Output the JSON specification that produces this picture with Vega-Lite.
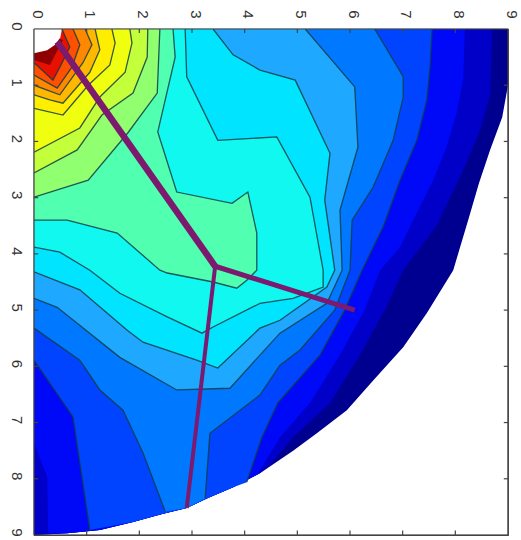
{"$schema":"https://vega.github.io/schema/vega-lite/v6.json","width":474,"height":506,"autosize":"none","padding":{"left":34,"top":29,"right":13,"bottom":5},"background":"white","view":{"stroke":"#444","strokeWidth":1.2},
"datasets":{"bands":[
{"b":"D","i":0,"x":9,"y":0},{"b":"D","i":1,"x":9,"y":1.0},{"b":"D","i":2,"x":8.89,"y":1.57},{"b":"D","i":3,"x":8.66,"y":2.15},{"b":"D","i":4,"x":8.45,"y":2.74},{"b":"D","i":5,"x":8.26,"y":3.35},{"b":"D","i":6,"x":7.96,"y":4.29},{"b":"D","i":7,"x":7.46,"y":5.05},{"b":"D","i":8,"x":7.01,"y":5.66},{"b":"D","i":9,"x":6.44,"y":6.25},{"b":"D","i":10,"x":5.94,"y":6.78},{"b":"D","i":11,"x":5.37,"y":7.19},{"b":"D","i":12,"x":4.92,"y":7.5},{"b":"D","i":13,"x":4.29,"y":7.9},{"b":"D","i":14,"x":3.78,"y":8.15},{"b":"D","i":15,"x":3.28,"y":8.35},{"b":"D","i":16,"x":2.9,"y":8.52},{"b":"D","i":17,"x":2.45,"y":8.62},{"b":"D","i":18,"x":1.88,"y":8.77},{"b":"D","i":19,"x":1.25,"y":8.91},{"b":"D","i":20,"x":0.63,"y":8.97},{"b":"D","i":21,"x":0,"y":9},{"b":"D","i":99,"x":0,"y":0},
{"b":"C1","i":0,"x":8.7,"y":0},{"b":"C1","i":1,"x":8.66,"y":1.17},{"b":"C1","i":2,"x":8.47,"y":1.8},{"b":"C1","i":3,"x":8.15,"y":2.51},{"b":"C1","i":4,"x":7.65,"y":3.49},{"b":"C1","i":5,"x":7.01,"y":4.29},{"b":"C1","i":6,"x":6.66,"y":5.0},{"b":"C1","i":7,"x":6.19,"y":5.8},{"b":"C1","i":8,"x":5.62,"y":6.65},{"b":"C1","i":9,"x":4.92,"y":7.26},{"b":"C1","i":10,"x":4.48,"y":7.76},{"b":"C1","i":11,"x":4.29,"y":7.9},{"b":"C1","i":12,"x":3.78,"y":8.15},{"b":"C1","i":13,"x":3.28,"y":8.35},{"b":"C1","i":14,"x":2.9,"y":8.52},{"b":"C1","i":15,"x":2.45,"y":8.62},{"b":"C1","i":16,"x":1.88,"y":8.77},{"b":"C1","i":17,"x":1.25,"y":8.91},{"b":"C1","i":18,"x":0.63,"y":8.97},{"b":"C1","i":19,"x":0,"y":9},{"b":"C1","i":99,"x":0,"y":0},
{"b":"C2","i":0,"x":8.18,"y":0},{"b":"C2","i":1,"x":8.15,"y":0.89},{"b":"C2","i":2,"x":8.03,"y":1.48},{"b":"C2","i":3,"x":7.84,"y":2.08},{"b":"C2","i":4,"x":7.58,"y":2.69},{"b":"C2","i":5,"x":7.27,"y":3.27},{"b":"C2","i":6,"x":6.95,"y":3.88},{"b":"C2","i":7,"x":6.57,"y":4.29},{"b":"C2","i":8,"x":6.28,"y":5.0},{"b":"C2","i":9,"x":5.81,"y":5.8},{"b":"C2","i":10,"x":5.24,"y":6.65},{"b":"C2","i":11,"x":4.67,"y":7.26},{"b":"C2","i":12,"x":4.25,"y":7.92},{"b":"C2","i":13,"x":3.78,"y":8.15},{"b":"C2","i":14,"x":3.28,"y":8.35},{"b":"C2","i":15,"x":2.9,"y":8.52},{"b":"C2","i":16,"x":2.45,"y":8.62},{"b":"C2","i":17,"x":1.88,"y":8.77},{"b":"C2","i":18,"x":1.25,"y":8.91},{"b":"C2","i":19,"x":0.63,"y":8.97},{"b":"C2","i":20,"x":0.27,"y":8.97},{"b":"C2","i":21,"x":0.25,"y":7.97},{"b":"C2","i":22,"x":0,"y":7.37},{"b":"C2","i":99,"x":0,"y":0},
{"b":"C3","s":"C3a","i":0,"x":7.56,"y":0},{"b":"C3","s":"C3a","i":1,"x":7.52,"y":0.68},{"b":"C3","s":"C3a","i":2,"x":7.46,"y":1.26},{"b":"C3","s":"C3a","i":3,"x":7.27,"y":1.98},{"b":"C3","s":"C3a","i":4,"x":6.95,"y":2.69},{"b":"C3","s":"C3a","i":5,"x":6.63,"y":3.52},{"b":"C3","s":"C3a","i":6,"x":6.23,"y":4.29},{"b":"C3","s":"C3a","i":7,"x":5.9,"y":5.0},{"b":"C3","s":"C3a","i":8,"x":5.43,"y":5.8},{"b":"C3","s":"C3a","i":9,"x":4.63,"y":6.65},{"b":"C3","s":"C3a","i":10,"x":4.33,"y":7.26},{"b":"C3","s":"C3a","i":11,"x":4.04,"y":8.06},{"b":"C3","i":12,"x":3.78,"y":8.15},{"b":"C3","i":13,"x":3.28,"y":8.35},{"b":"C3","i":14,"x":2.9,"y":8.52},{"b":"C3","i":15,"x":2.45,"y":8.62},{"b":"C3","i":16,"x":1.88,"y":8.77},{"b":"C3","s":"C3b","i":17,"x":1.06,"y":8.91},{"b":"C3","s":"C3b","i":18,"x":0.74,"y":6.9},{"b":"C3","s":"C3b","i":19,"x":0,"y":5.89},{"b":"C3","i":99,"x":0,"y":0},
{"b":"C4","s":"C4a","i":0,"x":6.47,"y":0},{"b":"C4","s":"C4a","i":1,"x":7.01,"y":0.85},{"b":"C4","s":"C4a","i":2,"x":7.01,"y":1.21},{"b":"C4","s":"C4a","i":3,"x":6.82,"y":1.98},{"b":"C4","s":"C4a","i":4,"x":6.44,"y":2.81},{"b":"C4","s":"C4a","i":5,"x":6.04,"y":3.4},{"b":"C4","s":"C4a","i":6,"x":6.0,"y":4.29},{"b":"C4","s":"C4a","i":7,"x":5.71,"y":5.0},{"b":"C4","s":"C4a","i":8,"x":5.05,"y":5.71},{"b":"C4","s":"C4a","i":9,"x":4.67,"y":5.98},{"b":"C4","s":"C4a","i":10,"x":4.29,"y":6.51},{"b":"C4","s":"C4a","i":11,"x":3.34,"y":7.19},{"b":"C4","s":"C4a","i":12,"x":3.25,"y":8.35},{"b":"C4","i":13,"x":2.9,"y":8.52},{"b":"C4","s":"C4b","i":14,"x":2.49,"y":8.58},{"b":"C4","s":"C4b","i":15,"x":2.07,"y":7.54},{"b":"C4","s":"C4b","i":16,"x":1.69,"y":6.78},{"b":"C4","s":"C4b","i":17,"x":1.25,"y":6.42},{"b":"C4","s":"C4b","i":18,"x":0.87,"y":5.89},{"b":"C4","s":"C4b","i":19,"x":0,"y":5.32},{"b":"C4","i":99,"x":0,"y":0},
{"b":"C5","s":"C5","i":0,"x":5.15,"y":0},{"b":"C5","s":"C5","i":1,"x":6.09,"y":1.03},{"b":"C5","s":"C5","i":2,"x":6.15,"y":2.1},{"b":"C5","s":"C5","i":3,"x":5.81,"y":3.22},{"b":"C5","s":"C5","i":4,"x":5.85,"y":4.29},{"b":"C5","s":"C5","i":5,"x":5.56,"y":4.88},{"b":"C5","s":"C5","i":6,"x":4.67,"y":5.41},{"b":"C5","s":"C5","i":7,"x":4.29,"y":5.8},{"b":"C5","s":"C5","i":8,"x":3.72,"y":6.39},{"b":"C5","s":"C5","i":9,"x":2.71,"y":6.42},{"b":"C5","s":"C5","i":10,"x":1.63,"y":5.84},{"b":"C5","s":"C5","i":11,"x":0.44,"y":4.95},{"b":"C5","s":"C5","i":12,"x":0,"y":4.79},{"b":"C5","i":99,"x":0,"y":0},
{"b":"C6","s":"C6","i":0,"x":3.4,"y":0},{"b":"C6","s":"C6","i":1,"x":3.78,"y":0.46},{"b":"C6","s":"C6","i":2,"x":4.29,"y":0.73},{"b":"C6","s":"C6","i":3,"x":4.96,"y":0.91},{"b":"C6","s":"C6","i":4,"x":5.62,"y":2.21},{"b":"C6","s":"C6","i":5,"x":5.52,"y":3.04},{"b":"C6","s":"C6","i":6,"x":5.71,"y":4.29},{"b":"C6","s":"C6","i":7,"x":5.56,"y":4.59},{"b":"C6","s":"C6","i":8,"x":4.67,"y":5.18},{"b":"C6","s":"C6","i":9,"x":4.29,"y":5.32},{"b":"C6","s":"C6","i":10,"x":3.49,"y":6.03},{"b":"C6","s":"C6","i":11,"x":3.09,"y":5.89},{"b":"C6","s":"C6","i":12,"x":2.07,"y":5.57},{"b":"C6","s":"C6","i":13,"x":1.77,"y":5.36},{"b":"C6","s":"C6","i":14,"x":0.87,"y":4.64},{"b":"C6","s":"C6","i":15,"x":0,"y":4.32},{"b":"C6","i":99,"x":0,"y":0},
{"b":"C7","s":"C7","i":0,"x":2.87,"y":0},{"b":"C7","s":"C7","i":1,"x":2.9,"y":0.85},{"b":"C7","s":"C7","i":2,"x":3.49,"y":1.98},{"b":"C7","s":"C7","i":3,"x":4.61,"y":1.92},{"b":"C7","s":"C7","i":4,"x":5.24,"y":2.99},{"b":"C7","s":"C7","i":5,"x":5.49,"y":4.29},{"b":"C7","s":"C7","i":6,"x":5.49,"y":4.59},{"b":"C7","s":"C7","i":7,"x":4.92,"y":4.79},{"b":"C7","s":"C7","i":8,"x":4.29,"y":4.88},{"b":"C7","s":"C7","i":9,"x":3.4,"y":5.3},{"b":"C7","s":"C7","i":10,"x":3.19,"y":5.41},{"b":"C7","s":"C7","i":11,"x":2.53,"y":5.12},{"b":"C7","s":"C7","i":12,"x":1.63,"y":4.7},{"b":"C7","s":"C7","i":13,"x":1.06,"y":4.29},{"b":"C7","s":"C7","i":14,"x":0.49,"y":3.97},{"b":"C7","s":"C7","i":15,"x":0,"y":3.88},{"b":"C7","i":99,"x":0,"y":0},
{"b":"C8","s":"C8","i":0,"x":2.64,"y":0},{"b":"C8","s":"C8","i":1,"x":2.68,"y":0.5},{"b":"C8","s":"C8","i":2,"x":2.35,"y":1.83},{"b":"C8","s":"C8","i":3,"x":2.71,"y":2.9},{"b":"C8","s":"C8","i":4,"x":3.76,"y":3.1},{"b":"C8","s":"C8","i":5,"x":4.06,"y":2.9},{"b":"C8","s":"C8","i":6,"x":4.23,"y":3.63},{"b":"C8","s":"C8","i":7,"x":4.23,"y":4.29},{"b":"C8","s":"C8","i":8,"x":4.04,"y":4.47},{"b":"C8","s":"C8","i":9,"x":3.85,"y":4.61},{"b":"C8","s":"C8","i":10,"x":3.4,"y":4.5},{"b":"C8","s":"C8","i":11,"x":2.53,"y":4.34},{"b":"C8","s":"C8","i":12,"x":2.39,"y":4.29},{"b":"C8","s":"C8","i":13,"x":1.58,"y":3.63},{"b":"C8","s":"C8","i":14,"x":0.63,"y":3.4},{"b":"C8","s":"C8","i":15,"x":0,"y":3.4},{"b":"C8","i":99,"x":0,"y":0},
{"b":"C9","s":"C9","i":0,"x":2.39,"y":0},{"b":"C9","s":"C9","i":1,"x":2.34,"y":1.14},{"b":"C9","s":"C9","i":2,"x":1.78,"y":1.85},{"b":"C9","s":"C9","i":3,"x":1.03,"y":2.69},{"b":"C9","s":"C9","i":4,"x":0,"y":2.99},{"b":"C9","i":99,"x":0,"y":0},
{"b":"C10","s":"C10","i":0,"x":2.16,"y":0},{"b":"C10","s":"C10","i":1,"x":2.15,"y":0.5},{"b":"C10","s":"C10","i":2,"x":1.88,"y":1.14},{"b":"C10","s":"C10","i":3,"x":1.29,"y":1.53},{"b":"C10","s":"C10","i":4,"x":0.82,"y":2.15},{"b":"C10","s":"C10","i":5,"x":0,"y":2.56},{"b":"C10","i":99,"x":0,"y":0},
{"b":"C11","s":"C11","i":0,"x":1.82,"y":0},{"b":"C11","s":"C11","i":1,"x":1.86,"y":0.25},{"b":"C11","s":"C11","i":2,"x":1.73,"y":0.77},{"b":"C11","s":"C11","i":3,"x":1.25,"y":1.21},{"b":"C11","s":"C11","i":4,"x":0.87,"y":1.76},{"b":"C11","s":"C11","i":5,"x":0,"y":2.19},{"b":"C11","i":99,"x":0,"y":0},
{"b":"C12","s":"C12","i":0,"x":1.48,"y":0},{"b":"C12","s":"C12","i":1,"x":1.54,"y":0.25},{"b":"C12","s":"C12","i":2,"x":1.44,"y":0.64},{"b":"C12","s":"C12","i":3,"x":1.03,"y":1.0},{"b":"C12","s":"C12","i":4,"x":0.55,"y":1.53},{"b":"C12","s":"C12","i":5,"x":0,"y":1.41},{"b":"C12","i":99,"x":0,"y":0},
{"b":"C13","s":"C13","i":0,"x":1.16,"y":0},{"b":"C13","s":"C13","i":1,"x":1.25,"y":0.37},{"b":"C13","s":"C13","i":2,"x":1.06,"y":0.77},{"b":"C13","s":"C13","i":3,"x":0.55,"y":1.32},{"b":"C13","s":"C13","i":4,"x":0.3,"y":1.26},{"b":"C13","s":"C13","i":5,"x":0,"y":1.17},{"b":"C13","i":99,"x":0,"y":0},
{"b":"C14","s":"C14","i":0,"x":0.97,"y":0},{"b":"C14","s":"C14","i":1,"x":1.1,"y":0.28},{"b":"C14","s":"C14","i":2,"x":0.93,"y":0.6},{"b":"C14","s":"C14","i":3,"x":0.49,"y":1.17},{"b":"C14","s":"C14","i":4,"x":0,"y":1.0},{"b":"C14","i":99,"x":0,"y":0},
{"b":"C15","s":"C15","i":0,"x":0.74,"y":0},{"b":"C15","s":"C15","i":1,"x":0.87,"y":0.28},{"b":"C15","s":"C15","i":2,"x":0.72,"y":0.68},{"b":"C15","s":"C15","i":3,"x":0.44,"y":1.05},{"b":"C15","s":"C15","i":4,"x":0,"y":0.82},{"b":"C15","i":99,"x":0,"y":0},
{"b":"C16","s":"C16","i":0,"x":0.53,"y":0},{"b":"C16","s":"C16","i":1,"x":0.68,"y":0.32},{"b":"C16","s":"C16","i":2,"x":0.49,"y":0.68},{"b":"C16","s":"C16","i":3,"x":0.36,"y":0.91},{"b":"C16","s":"C16","i":4,"x":0,"y":0.6},{"b":"C16","i":99,"x":0,"y":0},
{"b":"C17","i":0,"x":0.55,"y":0.2},{"b":"C17","i":1,"x":0.3,"y":0.64},{"b":"C17","i":2,"x":0,"y":0.55},{"b":"C17","i":99,"x":0,"y":0},
{"b":"W","i":0,"x":0.53,"y":0},{"b":"W","i":1,"x":0.5,"y":0.15},{"b":"W","i":2,"x":0.4,"y":0.28},{"b":"W","i":3,"x":0.25,"y":0.38},{"b":"W","i":4,"x":0,"y":0.43},{"b":"W","i":99,"x":0,"y":0}
],
"arms":[{"a":"n","i":0,"x":0.44,"y":0.23},{"a":"n","i":1,"x":3.44,"y":4.22},{"a":"e","i":0,"x":3.44,"y":4.22},{"a":"e","i":1,"x":6.09,"y":5.0},{"a":"s","i":0,"x":3.44,"y":4.22},{"a":"s","i":1,"x":2.9,"y":8.52}],
"ticks":[
{"x":0,"x2":9,"y":0,"y2":0},{"x":0,"x2":9,"y":9,"y2":9},{"x":0,"x2":0,"y":0,"y2":9},{"x":9,"x2":9,"y":0,"y2":9},
{"x":1,"x2":1,"y":9,"y2":8.92},{"x":2,"x2":2,"y":9,"y2":8.92},{"x":3,"x2":3,"y":9,"y2":8.92},{"x":4,"x2":4,"y":9,"y2":8.92},{"x":5,"x2":5,"y":9,"y2":8.92},{"x":6,"x2":6,"y":9,"y2":8.92},{"x":7,"x2":7,"y":9,"y2":8.92},{"x":8,"x2":8,"y":9,"y2":8.92},
{"x":9,"x2":8.92,"y":1,"y2":1},{"x":9,"x2":8.92,"y":2,"y2":2},{"x":9,"x2":8.92,"y":3,"y2":3},{"x":9,"x2":8.92,"y":4,"y2":4},{"x":9,"x2":8.92,"y":5,"y2":5},{"x":9,"x2":8.92,"y":6,"y2":6},{"x":9,"x2":8.92,"y":7,"y2":7},{"x":9,"x2":8.92,"y":8,"y2":8},
{"x":0,"x2":0.08,"y":1,"y2":1},{"x":0,"x2":0.08,"y":2,"y2":2},{"x":0,"x2":0.08,"y":3,"y2":3},{"x":0,"x2":0.08,"y":4,"y2":4},{"x":0,"x2":0.08,"y":5,"y2":5},{"x":0,"x2":0.08,"y":6,"y2":6},{"x":0,"x2":0.08,"y":7,"y2":7},{"x":0,"x2":0.08,"y":8,"y2":8},
{"x":1,"x2":1,"y":0,"y2":0.07},{"x":2,"x2":2,"y":0,"y2":0.07},{"x":3,"x2":3,"y":0,"y2":0.07},{"x":4,"x2":4,"y":0,"y2":0.07},{"x":5,"x2":5,"y":0,"y2":0.07},{"x":6,"x2":6,"y":0,"y2":0.07},{"x":7,"x2":7,"y":0,"y2":0.07},{"x":8,"x2":8,"y":0,"y2":0.07}
]},
"layer":[
{"data":{"name":"bands"},"mark":{"type":"line","clip":true,"stroke":null},"encoding":{
"x":{"field":"x","type":"quantitative","scale":{"domain":[0,9],"nice":false},"axis":{"orient":"top","values":[0,1,2,3,4,5,6,7,8,9],"grid":false,"domain":false,"tickSize":0,"labelAngle":90,"labelPadding":11,"labelOffset":3,"labelFont":"Liberation Sans","labelFontSize":15,"labelColor":"#333","title":null}},
"y":{"field":"y","type":"quantitative","scale":{"domain":[0,9],"reverse":true,"nice":false},"axis":{"orient":"left","values":[0,1,2,3,4,5,6,7,8,9],"grid":false,"domain":false,"tickSize":0,"labelAngle":90,"labelPadding":11,"labelOffset":-3,"labelFont":"Liberation Sans","labelFontSize":15,"labelColor":"#333","title":null}},
"order":{"field":"i","type":"quantitative"},
"fill":{"field":"b","type":"nominal","legend":null,"scale":{"domain":["D","C1","C2","C3","C4","C5","C6","C7","C8","C9","C10","C11","C12","C13","C14","C15","C16","C17","W"],"range":["#000090","#0000c8","#0008f8","#0044ff","#0078ff","#1ea8ff","#00e4ff","#10f8f0","#50ffb0","#90ff70","#c4ff3c","#f0ff10","#ffee00","#ffb800","#ff8800","#ff5000","#e81000","#900000","#ffffff"]}}}},
{"data":{"name":"bands"},"transform":[{"filter":"isValid(datum.s)"}],"mark":{"type":"line","clip":true,"stroke":"#123c44","strokeWidth":1.3,"opacity":0.85},"encoding":{
"x":{"field":"x","type":"quantitative","axis":null},
"y":{"field":"y","type":"quantitative","axis":null},
"order":{"field":"i","type":"quantitative"},"detail":{"field":"s"}}},
{"data":{"name":"arms"},"transform":[{"filter":"datum.a=='n'"}],"mark":{"type":"line","stroke":"#7b1a6e","strokeWidth":6.5},"encoding":{"x":{"field":"x","type":"quantitative","axis":null},"y":{"field":"y","type":"quantitative","axis":null},"order":{"field":"i","type":"quantitative"}}},
{"data":{"name":"arms"},"transform":[{"filter":"datum.a=='e'"}],"mark":{"type":"line","stroke":"#7b1a6e","strokeWidth":5},"encoding":{"x":{"field":"x","type":"quantitative","axis":null},"y":{"field":"y","type":"quantitative","axis":null},"order":{"field":"i","type":"quantitative"}}},
{"data":{"name":"arms"},"transform":[{"filter":"datum.a=='s'"}],"mark":{"type":"line","stroke":"#7b1a6e","strokeWidth":4},"encoding":{"x":{"field":"x","type":"quantitative","axis":null},"y":{"field":"y","type":"quantitative","axis":null},"order":{"field":"i","type":"quantitative"}}},
{"data":{"name":"ticks"},"mark":{"type":"rule","stroke":"#444","strokeWidth":1.2},"encoding":{"x":{"field":"x","type":"quantitative","axis":null},"x2":{"field":"x2"},"y":{"field":"y","type":"quantitative","axis":null},"y2":{"field":"y2"}}}
],
"resolve":{"axis":{"x":"independent","y":"independent"}}}
